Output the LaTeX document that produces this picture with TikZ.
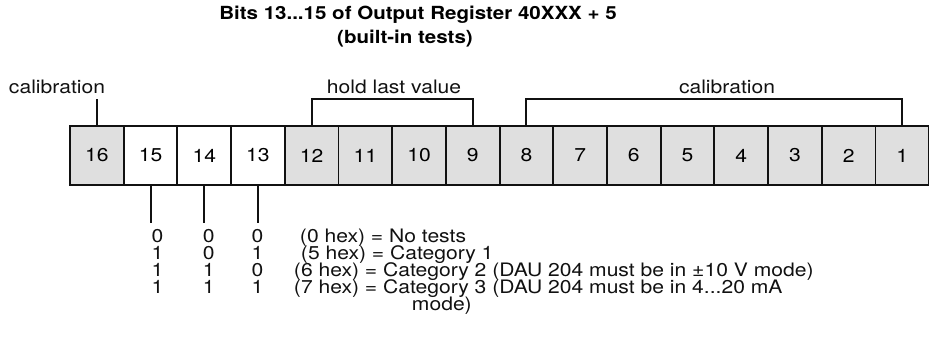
\documentclass[tikz,border=0pt]{standalone}
\usepackage{fontspec}
\setmainfont{TeX Gyre Heros}
\usetikzlibrary{positioning}
\definecolor{cgrey}{HTML}{DFDFDF}
\definecolor{cink}{HTML}{111111}
\newcommand{\vsq}[1]{\scalebox{1}[0.88]{#1}}
\tikzset{
  every picture/.style={line width=1.4pt},
  cell/.style={draw=cink, fill=#1, minimum width=1.3425cm, minimum height=1.475cm, inner sep=0pt, outer sep=0pt, font=\fontsize{15}{12.05}\selectfont},
  cell/.default=cgrey,
  bracket/.style={draw=cink, line width=1.4pt},
  title/.style={font=\fontsize{14.6}{17}\selectfont\bfseries, align=center, inner sep=0pt},
  lbl/.style={font=\fontsize{15}{12.05}\selectfont, inner sep=0pt, text=cink},
}

\begin{document}
\begin{tikzpicture}[
    digit/.style={lbl, anchor=base},
    row/.style={lbl, anchor=base west},
  ]
  \useasboundingbox (0,0) rectangle (23.225,8.675);
  \node[title, anchor=north] (head) at (10.45,8.55) {\vsq{Bits 13...15 of Output Register 40XXX + 5}\\\vsq{(built-in tests)}\hspace*{0.65cm}};

  % register bits
  \foreach \b in {1,...,12,16}
    \node[cell] (b\b) at ({1.75+(16.5-\b)*1.3425},4.7875) {\vsq{\b}};
  \foreach \b in {13,14,15}
    \node[cell=white] (b\b) at ({1.75+(16.5-\b)*1.3425},4.7875) {\vsq{\b}};

  % brackets above
  \node[lbl, anchor=base west] (cal1) at (0.2,6.35) {\vsq{calibration}};
  \node[lbl, anchor=base] (hold) at (9.85,6.35) {\vsq{hold last value}};
  \node[lbl, anchor=base] (cal2) at (18.175,6.35) {\vsq{calibration}};
  \draw[bracket] (b16.north) -- ++(0,0.675);
  \draw[bracket] (b12.north) -- ++(0,0.675) -| (b9.north);
  \draw[bracket] (b8.north) -- ++(0,0.675) -| (b1.north);

  % test codes
  \foreach \b in {13,14,15}
    \draw[bracket] (b\b.south) -- ++(0,-0.95);
  \foreach \r/\y/\p/\q/\s in {1/2.625/0/0/0, 2/2.2/1/0/1, 3/1.775/1/1/0, 4/1.35/1/1/1} {
    \node[digit] (c\r a) at (3.94,\y) {\vsq{\p}};
    \node[digit] (c\r b) at (5.22,\y) {\vsq{\q}};
    \node[digit] (c\r c) at (6.44,\y) {\vsq{\s}};
  }
  \node[row] (t1) at (7.475,2.625) {\vsq{(0 hex) = No tests}};
  \node[row] (t2) at (7.5,2.2) {\vsq{(5 hex) = Category 1}};
  \node[row] (t3) at (7.325,1.775) {\vsq{(6 hex) = Category 2 (DAU 204 must be in ±10 V mode)}};
  \node[row] (t4) at (7.325,1.35) {\vsq{(7 hex) = Category 3 (DAU 204 must be in 4...20 mA}};
  \node[row] (t5) at (10.275,0.925) {\vsq{mode)}};
\end{tikzpicture}
\end{document}
